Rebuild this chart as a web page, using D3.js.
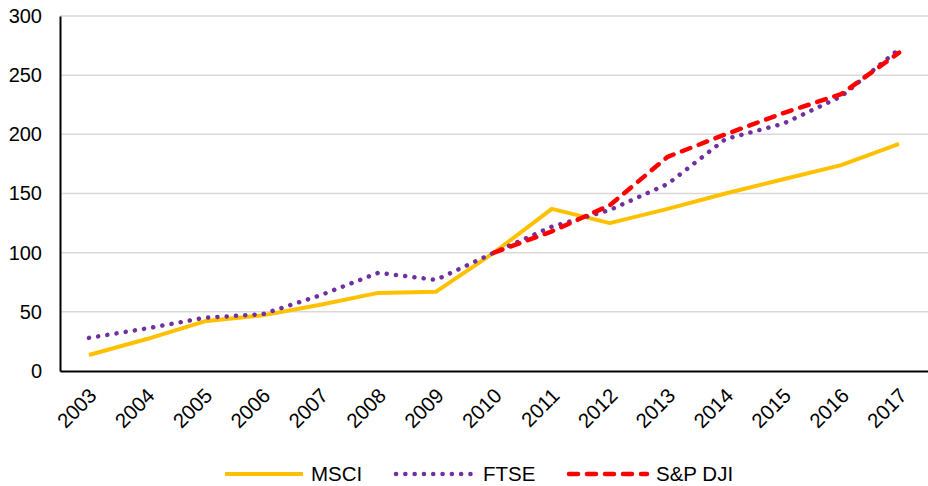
<!DOCTYPE html>
<html lang="en">
<head>
<meta charset="utf-8">
<title>Index chart</title>
<script src="https://cdn.jsdelivr.net/npm/d3@7"></script>
<style>
  body { margin: 0; background: #fff; }
  text { font-family: "Liberation Sans", Arial, sans-serif; fill: #000; }
</style>
</head>
<body>
<svg id="chart" width="928" height="486"></svg>
<script type="text/javascript">
// data
var years = ["2003","2004","2005","2006","2007","2008","2009","2010","2011","2012","2013","2014","2015","2016","2017"];
var msci  = [13.5, 27, 42, 47, 56, 66, 67, 100, 137, 125, 137, 150, 162, 174, 192];
var ftse  = [28, 36, 45, 48, 64, 83, 77, 100, 122, 136, 158, 196, 209, 232, 272];
var spdji = [null, null, null, null, null, null, null, 100, 118, 140, 181, 200, 218, 234, 269];
var yTicks = [0, 50, 100, 150, 200, 250, 300];

var series = [
  { name: "MSCI",    values: msci,  color: "#FFC000", dash: null,      cap: "butt",  w: 4 },
  { name: "FTSE",    values: ftse,  color: "#7030A0", dash: "0.1 9.2", cap: "round", w: 4.5 },
  { name: "S&P DJI", values: spdji, color: "#FF0000", dash: "9 9",     cap: "round", w: 4.5 }
];

var svg = d3.select("#chart");
var m = { left: 60, right: 928, top: 16, bottom: 371 };

var x = d3.scaleBand().domain(years).range([m.left, m.right]);
var y = d3.scaleLinear().domain([0, 300]).range([m.bottom, m.top]);

// grid lines
svg.append("g").selectAll("line").data(yTicks.slice(1)).enter().append("line")
  .attr("x1", m.left).attr("x2", m.right)
  .attr("y1", function(d) { return y(d); }).attr("y2", function(d) { return y(d); })
  .attr("stroke", "#d9d9d9").attr("stroke-width", 1.5);

// y axis
var yAxis = svg.append("g").attr("transform", "translate(" + m.left + ",0)")
  .call(d3.axisLeft(y).tickValues(yTicks).tickSize(0).tickPadding(18));
yAxis.select(".domain").attr("stroke", "#000").attr("stroke-width", 2);
yAxis.selectAll("text").style("font-size", "20px").attr("fill", "#000");

// x axis
var xAxis = svg.append("g").attr("transform", "translate(0," + m.bottom + ")")
  .call(d3.axisBottom(x).tickSize(0).tickPadding(0));
xAxis.select(".domain").attr("stroke", "#000").attr("stroke-width", 2);
xAxis.selectAll("text")
  .style("font-size", "20.5px").attr("fill", "#000")
  .attr("text-anchor", "end").attr("dy", null).attr("y", 0)
  .attr("transform", "translate(9,26) rotate(-45)");

// lines
var line = d3.line()
  .defined(function(d) { return d != null; })
  .x(function(d, i) { return x(years[i]) + x.bandwidth() / 2; })
  .y(function(d) { return y(d); });

series.forEach(function(s) {
  svg.append("path")
    .datum(s.values)
    .attr("fill", "none")
    .attr("stroke", s.color)
    .attr("stroke-width", s.w)
    .attr("stroke-linecap", s.cap)
    .attr("stroke-linejoin", "round")
    .attr("stroke-dasharray", s.dash)
    .attr("d", line);
});

// legend
var legX = [225, 396, 569];
var leg = svg.append("g").selectAll("g").data(series).enter().append("g")
  .attr("transform", function(d, i) { return "translate(" + legX[i] + ",474)"; });
leg.append("line")
  .attr("x1", 0).attr("x2", 78).attr("y1", 0).attr("y2", 0)
  .attr("stroke", function(d) { return d.color; })
  .attr("stroke-width", function(d) { return d.w; })
  .attr("stroke-linecap", function(d) { return d.cap; })
  .attr("stroke-dasharray", function(d) { return d.dash; });
leg.append("text")
  .attr("x", function(d, i) { return [86, 87, 87][i]; }).attr("y", 0).attr("dy", "0.35em")
  .style("font-size", "20.5px")
  .text(function(d) { return d.name; });
</script>
</body>
</html>
